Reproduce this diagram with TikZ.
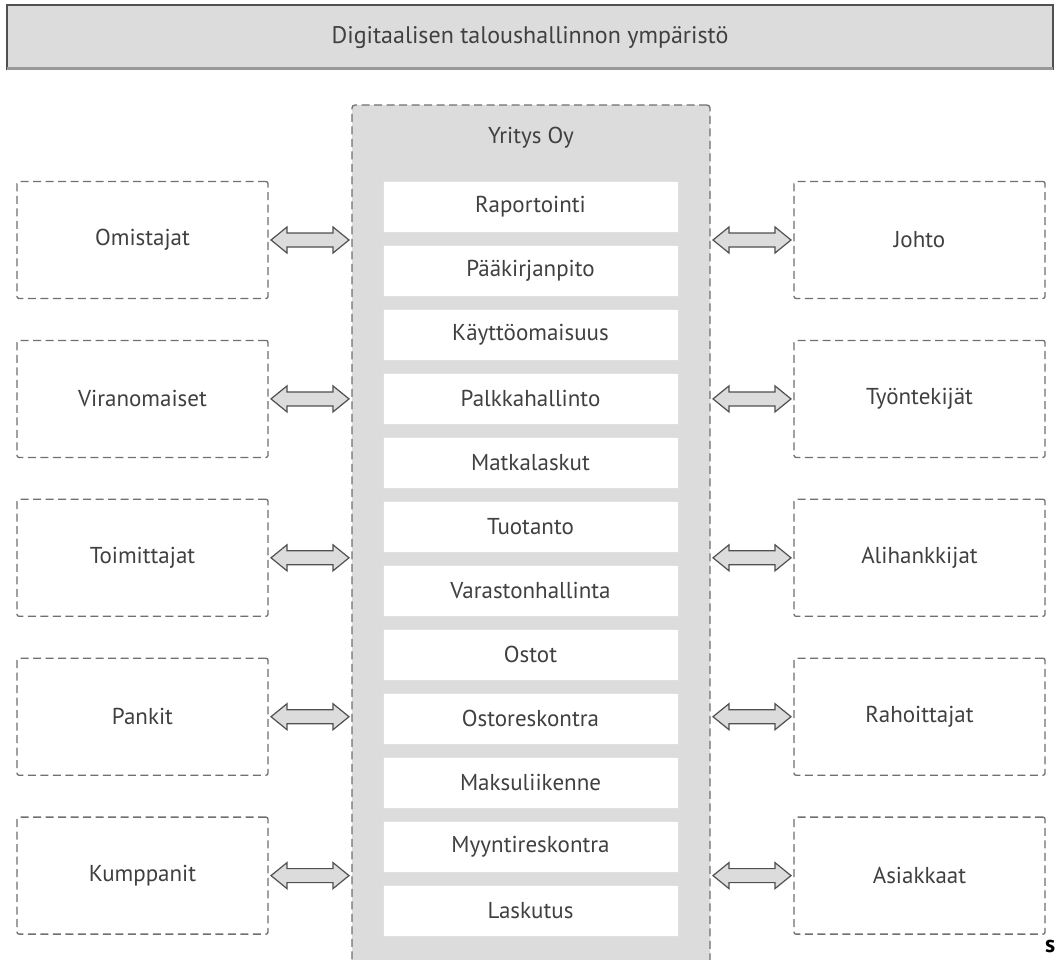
\documentclass[tikz,border=0pt]{standalone}
\usepackage{fontspec}
\setmainfont{PT Sans}
\usetikzlibrary{calc}
\definecolor{boxfill}{HTML}{DCDCDC}
\definecolor{linegray}{HTML}{707070}
\definecolor{darkline}{HTML}{505050}
\definecolor{txt}{HTML}{404040}
\tikzset{
  lbl/.style={text=txt, font=\fontsize{23}{27}\selectfont},
  outer/.style={lbl, draw=linegray, line width=1.3pt, dash pattern=on 8pt off 4.5pt,
    rounded corners=2pt, minimum width=251pt, minimum height=117pt, inner sep=0pt, outer sep=0pt},
  central/.style={fill=boxfill, draw=linegray, line width=1.3pt, dash pattern=on 8pt off 4.5pt,
    rounded corners=3pt, minimum width=358pt, minimum height=880pt, inner sep=0pt, outer sep=0pt},
  module/.style={lbl, fill=white, draw=white!88!black, line width=0.4pt,
    minimum width=295pt, minimum height=51pt, inner sep=0pt, outer sep=0pt},
  arr/.style={fill=boxfill, draw=darkline, line width=1.2pt, line join=miter},
}
\newcommand\dblarr[2]{%
  \draw[arr] let \p1=(#1), \p2=(#2) in
    (\p1) -- ++(16pt,13pt) -- ++(0pt,-6pt) -- ({\x2-16pt},{\y2+7pt}) -- ++(0pt,6pt)
    -- (\p2) -- ++(-16pt,-13pt) -- ++(0pt,6pt) -- ({\x1+16pt},{\y1-7pt}) -- ++(0pt,-6pt) -- cycle;}
\begin{document}
\begin{tikzpicture}[x=1pt,y=-1pt]
\useasboundingbox (0,0) rectangle (1062,959);
\fill[white] (0,0) rectangle (1062,959);
\clip (0,0) rectangle (1062,959);

% banner
\node[fill=boxfill, minimum width=1046pt, minimum height=65pt, inner sep=0pt, outer sep=0pt,
  text=txt, font=\fontsize{24}{28}\selectfont] (banner) at (530,37.5) {Digitaalisen taloushallinnon ympäristö};
\draw[darkline, line width=1.3pt] (banner.south west) -- (banner.north west) -- (banner.north east) -- (banner.south east);
\draw[black!40, line width=3pt] ($(banner.south west)+(0,-1.5)$) -- ($(banner.south east)+(0,-1.5)$);

% central company box
\node[central, anchor=north] (yritys) at (531,105) {};
\node[lbl] (yritysoy) at (531,138) {Yritys Oy};

\foreach \name/\txt [count=\i from 0] in {
  m1/Raportointi, m2/Pääkirjanpito, m3/Käyttöomaisuus, m4/Palkkahallinto,
  m5/Matkalaskut, m6/Tuotanto, m7/Varastonhallinta, m8/Ostot,
  m9/Ostoreskontra, m10/Maksuliikenne, m11/Myyntireskontra, m12/Laskutus}
  \node[module] (\name) at (530.5,{206.5+64*\i}) {\txt};

% left boxes
\foreach \name/\txt [count=\i from 0] in {
  omistajat/Omistajat, viranomaiset/Viranomaiset, toimittajat/Toimittajat,
  pankit/Pankit, kumppanit/Kumppanit}
  \node[outer] (\name) at (142.5,{240+158.9*\i}) {\txt};

% right boxes
\foreach \name/\txt [count=\i from 0] in {
  johto/Johto, tyontekijat/Työntekijät, alihankkijat/Alihankkijat,
  rahoittajat/Rahoittajat, asiakkaat/Asiakkaat}
  \node[outer] (\name) at (919.5,{240+158.9*\i}) {\txt};

% arrows
\foreach \name in {omistajat,viranomaiset,toimittajat,pankit,kumppanit}{
  \coordinate (a) at ($(\name.east)+(3,0)$);
  \coordinate (b) at ($(yritys.west |- \name.east)+(-3,0)$);
  \dblarr{a}{b}
}
\foreach \name in {johto,tyontekijat,alihankkijat,rahoittajat,asiakkaat}{
  \coordinate (a) at ($(yritys.east |- \name.west)+(3,0)$);
  \coordinate (b) at ($(\name.west)+(-3,0)$);
  \dblarr{a}{b}
}

% corner letter
\node[anchor=base west, inner sep=0pt, font=\bfseries\fontsize{24}{24}\selectfont] (s) at (1045,952) {s};
\end{tikzpicture}
\end{document}
